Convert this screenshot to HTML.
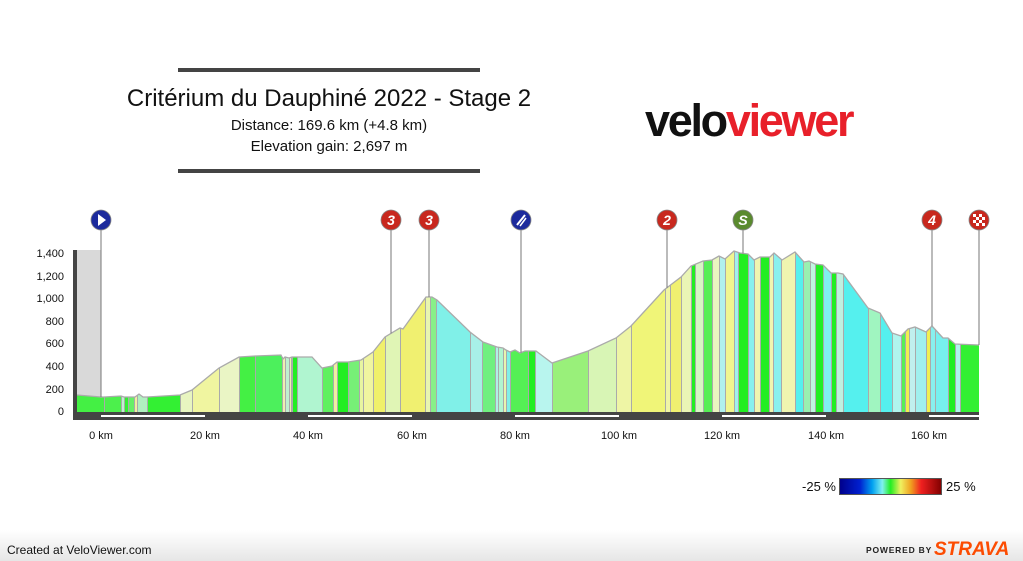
<!DOCTYPE html>
<html><head><meta charset="utf-8"><style>
html,body{margin:0;padding:0;background:#fff}
body{width:1023px;height:561px;overflow:hidden;position:relative;font-family:"Liberation Sans",Arial,sans-serif}
</style></head><body>
<svg id="s" width="1023" height="561" viewBox="0 0 1023 561" xmlns="http://www.w3.org/2000/svg" style="position:absolute;left:0;top:0">
<defs>
<linearGradient id="foot" x1="0" y1="0" x2="0" y2="1"><stop offset="0" stop-color="#fff"/><stop offset="1" stop-color="#e6e6e6"/></linearGradient>
<linearGradient id="leg" x1="0" y1="0" x2="1" y2="0">
<stop offset="0" stop-color="#00008a"/><stop offset="0.2" stop-color="#0020d0"/><stop offset="0.32" stop-color="#00a0f0"/><stop offset="0.42" stop-color="#80f0f0"/><stop offset="0.5" stop-color="#22ee22"/><stop offset="0.6" stop-color="#f0f060"/><stop offset="0.7" stop-color="#f0a020"/><stop offset="0.8" stop-color="#f02020"/><stop offset="1" stop-color="#800000"/>
</linearGradient>
<clipPath id="cp"><polygon id="cpoly"/></clipPath>
</defs>
<rect x="0" y="530" width="1023" height="31" fill="url(#foot)"/>
<rect x="178" y="68" width="302" height="4" fill="#444"/>
<rect x="178" y="169" width="302" height="4" fill="#444"/>
<text x="329" y="106" font-size="24" text-anchor="middle" fill="#111">Critérium du Dauphiné 2022 - Stage 2</text>
<text x="329" y="130" font-size="15" text-anchor="middle" fill="#111">Distance: 169.6 km (+4.8 km)</text>
<text x="329" y="151" font-size="15" text-anchor="middle" fill="#111">Elevation gain: 2,697 m</text>
<text x="645" y="136" font-size="45" font-weight="bold" letter-spacing="-2.3" fill="#111">velo<tspan fill="#e8202a">viewer</tspan></text>
<rect x="77" y="250" width="24" height="162" fill="#d9d9d9"/>
<g id="bands" clip-path="url(#cp)"></g>
<g id="seps" stroke="#aaa" stroke-width="1"></g>
<polyline id="outline" fill="none" stroke="#aaa" stroke-width="1.3"/>
<rect x="73" y="250" width="4" height="170" fill="#444"/>
<rect x="73" y="412" width="906" height="8" fill="#444"/>
<g fill="#fff"><rect x="101" y="415" width="104" height="2"/><rect x="308" y="415" width="104" height="2"/><rect x="515" y="415" width="104" height="2"/><rect x="722" y="415" width="104" height="2"/><rect x="929" y="415" width="50" height="2"/></g>
<g font-size="11" fill="#111" text-anchor="end">
<text x="64" y="415">0</text><text x="64" y="393">200</text><text x="64" y="370">400</text><text x="64" y="347">600</text><text x="64" y="325">800</text><text x="64" y="302">1,000</text><text x="64" y="280">1,200</text><text x="64" y="257">1,400</text>
</g>
<g font-size="11" fill="#111" text-anchor="middle">
<text x="101" y="439">0 km</text><text x="205" y="439">20 km</text><text x="308" y="439">40 km</text><text x="412" y="439">60 km</text><text x="515" y="439">80 km</text><text x="619" y="439">100 km</text><text x="722" y="439">120 km</text><text x="826" y="439">140 km</text><text x="929" y="439">160 km</text>
</g>
<g id="markers"></g>
<text x="836" y="491" font-size="13" text-anchor="end" fill="#111">-25 %</text>
<rect x="839.5" y="478.5" width="102" height="16" fill="url(#leg)" stroke="#555"/>
<text x="946" y="491" font-size="13" fill="#111">25 %</text>
<text x="7" y="554" font-size="12" fill="#111">Created at VeloViewer.com</text>
<text x="866" y="553" font-size="8.5" font-weight="bold" letter-spacing="0.8" fill="#222">POWERED BY</text>
<text x="934" y="555" font-size="19" font-weight="bold" font-style="italic" fill="#fc4c02" letter-spacing="0">STRAVA</text>
</svg>
<script>
var P=[[77,395],[101,397],[104,397],[121,396],[124,397],[135,397],[139,394],[143,397],[147,397],[180,395],[192,390],[219,368],[239,357],[255,356],[281,355],[283,359],[285,357],[289,358],[292,357],[297,357],[312,357],[322,368],[332,366],[337,362],[348,362],[361,360],[373,352],[385,337],[400,328],[403,329],[426,297],[432,297],[437,300],[470,332],[483,342],[497,347],[503,348],[506,350],[510,352],[515,350],[520,353],[525,351],[536,351],[552,363],[588,351],[616,338],[631,326],[664,290],[681,277],[691,266],[703,261],[712,260],[719,256],[725,259],[734,251],[740,253],[748,254],[754,260],[760,257],[770,257],[774,253],[782,260],[795,252],[804,262],[809,261],[815,264],[823,265],[831,273],[838,273],[843,274],[868,308],[880,313],[892,333],[901,336],[908,329],[915,327],[926,332],[932,326],[943,338],[948,338],[955,344],[979,345]];
var B=[[77,104,"#44f044"],[104,121,"#4cf04c"],[121,124,"#c0f0d0"],[124,128,"#33ee33"],[128,134,"#66f066"],[134,137,"#f0f0a0"],[137,147,"#b0f0c0"],[147,180,"#33f033"],[180,192,"#e8f5c0"],[192,219,"#f0f5a0"],[219,239,"#eaf5c5"],[239,255,"#44f044"],[255,282,"#4cf05c"],[282,285,"#f0f0b0"],[285,289,"#c0f0d0"],[289,291,"#f0f0b0"],[291,292,"#a0f0a0"],[292,297,"#22ee22"],[297,322,"#b0f5d0"],[322,333,"#5ff05f"],[333,337,"#f0f0a0"],[337,348,"#22ee22"],[348,359,"#77f077"],[359,363,"#e8f5a0"],[363,373,"#f0f5a0"],[373,385,"#f0f06a"],[385,400,"#e0f5b5"],[400,425,"#f0f070"],[425,430,"#e8f5b0"],[430,436,"#88f088"],[436,470,"#80f0e8"],[470,482,"#a8f0e8"],[482,495,"#70f080"],[495,498,"#b0f0e8"],[498,503,"#b0f5d0"],[503,506,"#e8f5b0"],[506,510,"#80f0e8"],[510,528,"#55f055"],[528,535,"#22ee22"],[535,552,"#b8f5ee"],[552,588,"#99f07a"],[588,616,"#d8f5b5"],[616,631,"#eef5a5"],[631,665,"#f0f578"],[665,670,"#f0f5a5"],[670,681,"#f0f070"],[681,691,"#eaf5b5"],[691,695,"#22ee22"],[695,703,"#d8f5c5"],[703,712,"#55ee55"],[712,719,"#eaf5c0"],[719,725,"#b0f0ee"],[725,734,"#f0f590"],[734,738,"#a0f0ee"],[738,748,"#22ee22"],[748,754,"#88f0ee"],[754,760,"#f0f5b0"],[760,769,"#22ee22"],[769,773,"#f0f5b0"],[773,781,"#88f0ee"],[781,795,"#f0f5b0"],[795,803,"#55f0ee"],[803,810,"#99f0b0"],[810,815,"#c0f5e0"],[815,823,"#22ee22"],[823,831,"#80f0ee"],[831,836,"#22ee22"],[836,843,"#c0f0e0"],[843,868,"#55f0ee"],[868,880,"#a0f5c0"],[880,892,"#55f0ee"],[892,901,"#b0f5ee"],[901,905,"#55f055"],[905,909,"#f0f050"],[909,915,"#c0f0ee"],[915,926,"#a0f0ee"],[926,930,"#f0f050"],[930,935,"#88f0ee"],[935,948,"#77f0ee"],[948,955,"#22ee22"],[955,960,"#b0f5ee"],[960,979,"#33f033"]];
var NS="http://www.w3.org/2000/svg";
function yAt(x){for(var i=0;i<P.length-1;i++){if(x>=P[i][0]&&x<=P[i+1][0]){var t=(x-P[i][0])/(P[i+1][0]-P[i][0]||1);return P[i][1]+t*(P[i+1][1]-P[i][1]);}}return 345;}
var pts=P.map(function(p){return p.join(",")}).join(" ");
document.getElementById("cpoly").setAttribute("points",pts+" 979,412 77,412");
document.getElementById("outline").setAttribute("points",pts);
var bg=document.getElementById("bands"),sg=document.getElementById("seps");
B.forEach(function(b){var r=document.createElementNS(NS,"rect");r.setAttribute("x",b[0]);r.setAttribute("y",240);r.setAttribute("width",b[1]-b[0]+0.5);r.setAttribute("height",175);r.setAttribute("fill",b[2]);bg.appendChild(r);
if(b[0]>77){var l=document.createElementNS(NS,"line");l.setAttribute("x1",b[0]+0.5);l.setAttribute("x2",b[0]+0.5);l.setAttribute("y1",yAt(b[0]));l.setAttribute("y2",412);sg.appendChild(l);}});
var M=[[101,"#1c2a9c","play"],[391,"#c8281e","3"],[429,"#c8281e","3"],[521,"#1c2a9c","feed"],[667,"#c8281e","2"],[743,"#5a8a2e","S"],[932,"#c8281e","4"],[979,"#c8281e","fin"]];
var mg=document.getElementById("markers"),h="";
M.forEach(function(m){var x=m[0];h+='<line x1="'+x+'" x2="'+x+'" y1="230" y2="'+yAt(x)+'" stroke="#777" stroke-width="1"/>';
h+='<circle cx="'+x+'" cy="220" r="10" fill="'+m[1]+'" stroke="#888" stroke-width="0.8"/>';
if(m[2]=="play")h+='<polygon points="'+(x-3)+',214 '+(x-3)+',226 '+(x+5)+',220" fill="#fff"/>';
else if(m[2]=="feed")h+='<line x1="'+(x-4)+'" y1="225" x2="'+(x+4)+'" y2="215" stroke="#fff" stroke-width="2"/><line x1="'+(x-1)+'" y1="226" x2="'+(x+5)+'" y2="218" stroke="#fff" stroke-width="1.5"/>';
else if(m[2]=="fin"){for(var i=0;i<4;i++)for(var j=0;j<4;j++)if((i+j)%2==0)h+='<rect x="'+(x-6+i*3)+'" y="'+(214+j*3)+'" width="3" height="3" fill="#fff"/>';}
else h+='<text x="'+x+'" y="225" font-size="14" font-weight="bold" font-style="italic" text-anchor="middle" fill="#fff">'+m[2]+'</text>';});
mg.innerHTML=h;
</script>
</body></html>
